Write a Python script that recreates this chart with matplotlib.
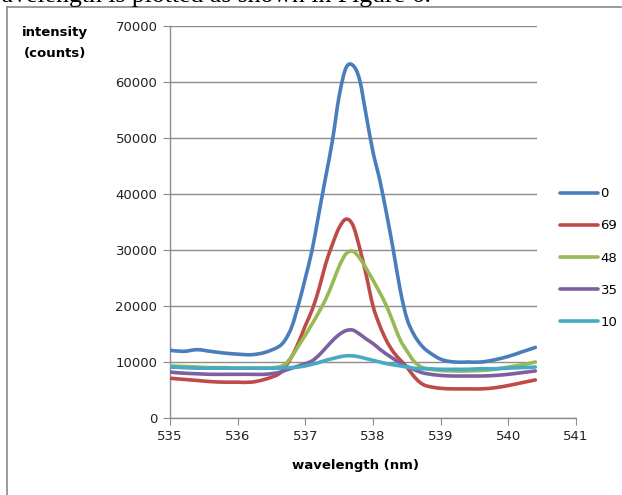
import matplotlib
matplotlib.use('Agg')
import numpy as np
import matplotlib.pyplot as plt
from matplotlib.patches import Rectangle, PathPatch
from matplotlib.lines import Line2D
from matplotlib.path import Path

# wavelength grid (nm)
wavelength = [535.0, 535.2, 535.4, 535.6, 535.8, 536.0, 536.2, 536.4, 536.6, 536.7,
              536.8, 536.9, 537.0, 537.1, 537.2, 537.3, 537.4, 537.5, 537.6, 537.7,
              537.8, 537.9, 538.0, 538.1, 538.2, 538.3, 538.4, 538.5, 538.6, 538.7,
              538.8, 539.0, 539.2, 539.4, 539.6, 539.8, 540.0, 540.2, 540.4]

s0 = [12100, 11900, 12200, 11900, 11600, 11400, 11300, 11700, 12700, 13900,
      16300, 20300, 25000, 30000, 36500, 43000, 49500, 57500, 62500, 63000,
      60500, 54000, 47500, 42500, 36500, 30000, 23000, 17800, 15000, 13200,
      12000, 10500, 10000, 10000, 10000, 10400, 11000, 11800, 12600]
s69 = [7100, 6900, 6700, 6500, 6400, 6400, 6400, 6900, 7800, 9100,
       11000, 13500, 16500, 19300, 23000, 27500, 31000, 34000, 35500, 34500,
       30500, 25500, 20000, 16500, 13800, 11800, 10400, 9100, 7500, 6300,
       5700, 5300, 5200, 5200, 5200, 5400, 5800, 6300, 6800]
s48 = [9300, 9200, 9100, 9000, 9000, 8900, 8900, 8900, 9100, 9600,
       11000, 12900, 14800, 16800, 18900, 21200, 24000, 27100, 29300, 29800,
       28600, 26700, 24600, 22400, 20000, 17000, 14000, 12000, 10200, 9200,
       8800, 8500, 8400, 8400, 8500, 8700, 9100, 9500, 10000]
s35 = [8200, 8000, 7900, 7800, 7800, 7800, 7800, 7800, 8100, 8500,
       8900, 9300, 9700, 10200, 11200, 12500, 13800, 14900, 15600, 15700,
       15000, 14100, 13300, 12300, 11400, 10600, 9800, 9200, 8700, 8200,
       7900, 7600, 7500, 7500, 7500, 7600, 7800, 8100, 8400]
s10 = [9100, 9000, 8900, 8900, 8900, 8900, 8900, 8900, 8900, 9000,
       9000, 9100, 9300, 9600, 9900, 10300, 10600, 10900, 11100, 11100,
       10900, 10600, 10300, 10000, 9700, 9500, 9300, 9100, 8900, 8800,
       8800, 8700, 8700, 8700, 8800, 8800, 8900, 9000, 9100]

labels = ['0', '69', '48', '35', '10']
series = [s0, s69, s48, s35, s10]
colors = ['#4A7EBB', '#BE4B48', '#98B954', '#7D60A0', '#46AAC5']


def smooth_path(xs, ys):
    # Excel-style smoothed line: cubic Bezier segments through the points
    p = np.column_stack([xs, ys]).astype(float)
    verts = [p[0]]
    codes = [Path.MOVETO]
    n = len(p)
    for i in range(n - 1):
        p0 = p[max(i - 1, 0)]
        p1 = p[i]
        p2 = p[i + 1]
        p3 = p[min(i + 2, n - 1)]
        verts += [p1 + (p2 - p0) / 6, p2 - (p3 - p1) / 6, p2]
        codes += [Path.CURVE4] * 3
    return Path(verts, codes)


W, H = 622, 495
fig = plt.figure(figsize=(W / 100, H / 100), dpi=100)
ax = fig.add_axes([170 / W, (H - 418) / H, (576 - 170) / W, (418 - 26) / H])

handles = []
for vals, lab, col in zip(series, labels, colors):
    patch = PathPatch(smooth_path(wavelength, vals), facecolor='none', edgecolor=col,
                      lw=2.6, capstyle='round', joinstyle='round', zorder=3)
    ax.add_patch(patch)
    handles.append(Line2D([], [], color=col, lw=2.6, solid_capstyle='round', label=lab))

ax.set_xlim(535, 541)
ax.set_ylim(0, 70000)
ax.set_xticks(range(535, 542))
ax.set_yticks(range(0, 70001, 10000))
ax.grid(axis='y', color='#8c8c8c', lw=1.0)
ax.set_axisbelow(True)
for side in ['top', 'right']:
    ax.spines[side].set_visible(False)
for side in ['left', 'bottom']:
    ax.spines[side].set_color('#8c8c8c')
    ax.spines[side].set_linewidth(1.0)
ax.tick_params(direction='out', length=5, color='#8c8c8c', labelsize=9.5,
               labelcolor='#222222', pad=4)
ax.set_xlabel('wavelength (nm)', fontsize=9.5, fontweight='bold')
ax.xaxis.set_label_coords((355 - 170) / (576 - 170), -(465 - 418) / (418 - 26))
ax.xaxis.label.set_va('center')

fig.text(55 / W, 1 - 43 / H, 'intensity\n(counts)', fontsize=9.5, fontweight='bold',
         ha='center', va='center', linespacing=1.75)

# white legend area covering the grid on the right
fig.patches.append(Rectangle((537 / W, 1 - 400 / H), (W - 537) / W, 380 / H,
                             transform=fig.transFigure, facecolor='white',
                             edgecolor='none', zorder=1))
leg = fig.legend(handles=handles, loc='center left',
                 bbox_to_anchor=(553 / W, 1 - 258 / H),
                 frameon=False, fontsize=9.5, handlelength=2.9, handletextpad=0.2,
                 labelspacing=1.45, borderpad=0)
leg.set_zorder(2)

# page frame and clipped caption line
fig.add_artist(Line2D([7 / W, 7 / W], [0, 1 - 7 / H], color='#8a8a8a', lw=1.2))
fig.add_artist(Line2D([7 / W, 621 / W], [1 - 7 / H, 1 - 7 / H], color='#8a8a8a', lw=1.2))
fig.text(-17 / W, 1 - 2 / H, 'wavelength is plotted as shown in Figure 6.',
         fontsize=18.5, family='Liberation Serif', ha='left', va='baseline')

fig.savefig('out.png', dpi=100)
